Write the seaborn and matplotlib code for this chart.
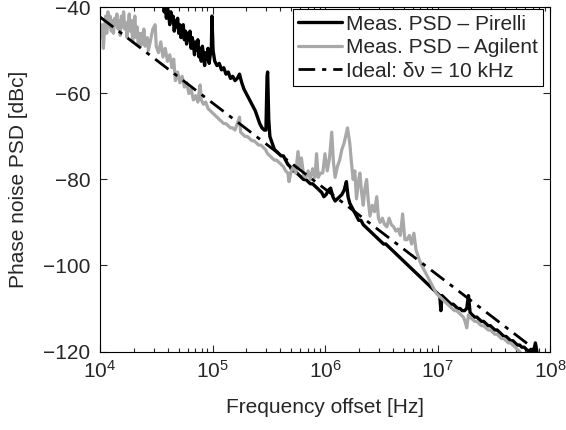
import numpy as np
import pandas as pd
import matplotlib
matplotlib.use('Agg')
import matplotlib.pyplot as plt
import seaborn as sns

# 로그 주파수(log10 Hz)와 위상잡음 PSD [dBc] - 그림에서 읽은 값
pirelli_logf = [4.40, 4.50, 4.56, 4.57, 4.58, 4.59, 4.60, 4.61, 4.62, 4.63, 4.64, 4.65, 4.66, 4.67,
                4.68, 4.69, 4.70, 4.71, 4.72, 4.73, 4.74, 4.75, 4.76, 4.77, 4.78, 4.79, 4.80, 4.81,
                4.82, 4.83, 4.84, 4.85, 4.86, 4.87, 4.88, 4.89, 4.90, 4.91, 4.92, 4.93, 4.94, 4.95,
                4.96, 4.97, 4.98, 4.99, 4.995, 5.005, 5.02, 5.04, 5.06,
                5.08, 5.10, 5.12, 5.14, 5.16, 5.18, 5.20, 5.22, 5.24, 5.26, 5.28, 5.30, 5.32, 5.34,
                5.36, 5.38, 5.40, 5.42, 5.44, 5.46, 5.475, 5.485, 5.49, 5.50, 5.51, 5.53, 5.55, 5.57,
                5.59, 5.61, 5.63, 5.65, 5.67, 5.69, 5.71, 5.73, 5.75, 5.77, 5.79, 5.81, 5.83, 5.85,
                5.87, 5.89, 5.91, 5.93, 5.95, 5.97, 5.99, 6.01, 6.03, 6.05, 6.07, 6.09, 6.11, 6.13,
                6.15, 6.17, 6.19, 6.205, 6.22, 6.24, 6.26, 6.28, 6.30, 6.32, 6.34, 6.36, 6.38, 6.40,
                6.42, 6.44, 6.46, 6.48, 6.50, 6.52, 6.54, 6.56, 6.58, 6.60, 6.62, 6.64, 6.66, 6.68,
                6.70, 6.72, 6.74, 6.76, 6.78, 6.80, 6.82, 6.84, 6.86, 6.88, 6.90, 6.92, 6.94, 6.96,
                6.98, 7.00, 7.02, 7.03, 7.04, 7.06, 7.08, 7.10, 7.12, 7.14, 7.16, 7.18, 7.20, 7.22,
                7.24, 7.26, 7.275, 7.29, 7.31, 7.33, 7.35, 7.37, 7.39, 7.41, 7.43, 7.45, 7.47, 7.49,
                7.51, 7.53, 7.55, 7.57, 7.59, 7.61, 7.63, 7.65, 7.67, 7.69, 7.71, 7.73, 7.75, 7.77,
                7.79, 7.81, 7.83, 7.85, 7.87, 7.89, 7.93]
pirelli_db = [-30, -35, -38, -41, -39.5, -42.5, -40, -41.5, -44, -41, -43, -42, -45.5, -43,
              -44.5, -42.5, -46, -44, -47, -45, -44, -47.5, -45.5, -48.5, -46, -47.5, -45.5, -49.5,
              -47, -48.5, -51, -48, -50, -47.5, -51.5, -49.5, -52.5, -49, -51, -53.5, -50.5, -52,
              -49.5, -53, -51, -49.5, -42, -50, -52.5, -53.5, -53,
              -54.5, -54, -55.5, -55, -56.5, -56, -57, -56.5, -55.5, -57.5, -59, -60, -61, -62,
              -63, -64, -65.5, -67, -68, -68.5, -68.5, -56, -55, -66, -70, -71.5, -73, -73.5,
              -74, -74.5, -74.5, -75.5, -76.5, -77, -78, -78, -78.5, -79, -79.5, -80, -80, -80.5,
              -81, -81, -81.5, -82, -82.5, -83, -84, -83.5, -82.5, -82, -84, -85, -84.5, -84,
              -83.5, -82.5, -80.5, -84, -85.5, -86.5, -87.5, -88.5, -89.5, -89.5, -90.5, -91, -91.5, -92,
              -92.5, -93, -93.5, -94, -94.5, -95, -95, -95.5, -96, -96.5, -97, -97.5, -98, -98.5,
              -99, -99.5, -100, -100.5, -101, -101.5, -102, -102.5, -103, -103.5, -104, -104.5, -105, -105.5,
              -106, -106.5, -107, -110.5, -107, -107.5, -108, -108.5, -109, -109, -109.5, -110, -110, -110.5,
              -110.5, -110, -107, -111, -111.5, -112, -112, -112.5, -113, -113, -113.5, -114, -114, -114.5,
              -115, -115, -115.5, -116, -116.5, -116.5, -117, -117.5, -117.5, -118, -118.5, -118.5, -119, -119,
              -119.5, -120, -119.5, -120.5, -118, -121, -122]

agilent_logf = [4.00, 4.01, 4.02, 4.03, 4.04, 4.05, 4.06, 4.07, 4.08, 4.09, 4.10, 4.11, 4.12, 4.13,
                4.14, 4.15, 4.16, 4.17, 4.18, 4.19, 4.20, 4.21, 4.22, 4.23, 4.24, 4.25, 4.26, 4.27,
                4.28, 4.29, 4.30, 4.31, 4.32, 4.33, 4.34, 4.35, 4.36, 4.37, 4.38, 4.39, 4.40, 4.42,
                4.43, 4.45, 4.47, 4.49, 4.50, 4.52, 4.54, 4.56, 4.58, 4.60, 4.62, 4.64, 4.655, 4.67,
                4.69, 4.71, 4.73, 4.75, 4.77, 4.79, 4.81, 4.83, 4.85, 4.87, 4.89, 4.90, 4.92, 4.94,
                4.96, 4.98, 5.00, 5.02, 5.04, 5.06, 5.08, 5.10, 5.12, 5.14, 5.16, 5.18, 5.20, 5.22,
                5.24, 5.25, 5.27, 5.29, 5.31, 5.33, 5.35, 5.37, 5.39, 5.41, 5.43, 5.45, 5.47, 5.49,
                5.51, 5.53, 5.55, 5.57, 5.59, 5.61, 5.63, 5.65, 5.67, 5.68, 5.70, 5.72, 5.74, 5.76,
                5.775, 5.79, 5.81, 5.83, 5.85, 5.87, 5.89, 5.91, 5.925, 5.94, 5.96, 5.98, 6.00, 6.02,
                6.04, 6.06, 6.075, 6.09, 6.11, 6.13, 6.15, 6.17, 6.20, 6.22, 6.235, 6.25, 6.265, 6.28,
                6.30, 6.31, 6.325, 6.34, 6.355, 6.37, 6.385, 6.40, 6.42, 6.44, 6.46, 6.475, 6.49, 6.51,
                6.53, 6.55, 6.57, 6.59, 6.61, 6.63, 6.65, 6.67, 6.69, 6.71, 6.73, 6.75, 6.77, 6.79,
                6.81, 6.83, 6.85, 6.87, 6.89, 6.91, 6.93, 6.95, 6.97, 6.99, 7.01, 7.03, 7.05, 7.07,
                7.09, 7.11, 7.13, 7.15, 7.17, 7.19, 7.21, 7.23, 7.245, 7.26, 7.275, 7.29, 7.31, 7.33,
                7.35, 7.37, 7.39, 7.41, 7.43, 7.45, 7.47, 7.49, 7.51, 7.53, 7.55, 7.57, 7.59, 7.61,
                7.63, 7.65, 7.67, 7.69, 7.71, 7.73, 7.75]
agilent_db = [-45, -47, -44, -49.5, -45, -42, -46, -41, -44.5, -42, -45.5, -43, -46, -42.5,
              -44, -41.5, -45, -43, -46.5, -42, -44.5, -41, -45, -43.5, -47, -44, -41.5, -45.5,
              -43, -48, -45, -42, -47, -44.5, -48.5, -46, -49, -46, -48.5, -45, -49, -47,
              -50, -47.5, -45, -44, -49, -50.5, -48, -51.5, -49.5, -52.5, -51, -54, -52, -57,
              -55, -57.5, -56, -58.5, -57.5, -60, -59, -61.5, -60.5, -62, -58, -61.5, -62.5, -62,
              -63.5, -64, -64.5, -65, -65.5, -66, -66.5, -67, -67, -67.5, -68, -68, -68.5, -67,
              -65.5, -69, -69.5, -70, -70, -70.5, -71, -71, -71.5, -72, -72, -72.5, -73, -74,
              -74.5, -75, -75.5, -75.5, -76, -76.5, -77, -78, -78.5, -80.5, -78, -77, -78.5, -73.5,
              -77, -75, -79, -79.5, -78, -80, -77.5, -79.5, -74, -79.5, -78.5, -78.5, -74, -78,
              -75, -69, -76, -79.5, -77, -75.5, -73, -71.5, -68, -71.5, -76, -80, -78, -84.5,
              -80, -78.5, -83, -86, -82, -80, -85, -88.5, -86, -87.5, -84, -89, -90, -89,
              -90.5, -91, -89, -90.5, -91, -92, -91.5, -93, -88, -94, -94, -93, -95, -92.5,
              -96.5, -98, -99.5, -100.5, -101.5, -102.5, -103.5, -104.5, -105.5, -106.5, -107, -107.5, -108, -108.5,
              -109, -109.5, -110, -110.5, -110.5, -111, -111.5, -112, -113, -114.5, -111.5, -112, -112.5, -113,
              -113, -113.5, -114, -114, -114.5, -115, -115, -115.5, -116, -116, -116.5, -117, -117, -117.5,
              -118, -118, -118.5, -119, -119.5, -120, -121]

# 이상적인 위상잡음 (δν = 10 kHz) - 양 끝점
ideal_logf = [4.0, 8.0]
ideal_db = [-42.2, -122.2]

df_p = pd.DataFrame({'f': 10 ** np.array(pirelli_logf), 'psd': pirelli_db})
df_a = pd.DataFrame({'f': 10 ** np.array(agilent_logf), 'psd': agilent_db})
df_i = pd.DataFrame({'f': 10 ** np.array(ideal_logf), 'psd': ideal_db})

sns.set_style('ticks')
plt.rcParams['font.family'] = ['Liberation Sans', 'DejaVu Sans']
plt.rcParams['mathtext.fontset'] = 'custom'
plt.rcParams['mathtext.rm'] = 'Liberation Sans'

fig = plt.figure(figsize = (5.66, 4.30), dpi = 100)
ax = fig.add_axes([100 / 566, 1 - 351.5 / 430, 450 / 566, 344 / 430])

sns.lineplot(data = df_p, x = 'f', y = 'psd', ax = ax, color = 'black', lw = 2.4,
             estimator = None, sort = False, label = 'Meas. PSD – Pirelli')
sns.lineplot(data = df_a, x = 'f', y = 'psd', ax = ax, color = '#a8a8a8', lw = 2.3,
             estimator = None, sort = False, label = 'Meas. PSD – Agilent')
sns.lineplot(data = df_i, x = 'f', y = 'psd', ax = ax, color = 'black', lw = 2.0,
             estimator = None, sort = False, label = 'Ideal: δν = 10 kHz')
ax.lines[-1].set_dashes([6, 2.5, 1.5, 2.5])

ax.set_xscale('log')
ax.set_xlim(1e4, 1e8)
ax.set_ylim(-120, -40)
ax.set_yticks([-120, -100, -80, -60, -40])
ax.set_xlabel('Frequency offset [Hz]', fontsize = 15, labelpad = 12)
ax.set_ylabel('Phase noise PSD [dBc]', fontsize = 15, labelpad = 11)
ax.tick_params(which = 'both', direction = 'in', top = True, right = True, labelsize = 15, width = 0.8)
ax.tick_params(axis = 'x', which = 'both', pad = 6)
ax.tick_params(axis = 'y', which = 'both', pad = 7)
ax.tick_params(which = 'major', length = 5)
ax.tick_params(which = 'minor', length = 3)
for s in ax.spines.values():
    s.set_linewidth(0.8)
    s.set_color('black')

leg = ax.legend(loc = 'upper right', bbox_to_anchor = (443 / 450, 1 - 1.8 / 344), fontsize = 15,
                frameon = True, fancybox = False, edgecolor = 'black', framealpha = 1,
                borderaxespad = 0, handlelength = 2.1, handletextpad = 0.2,
                labelspacing = 0.22, borderpad = 0.25)
leg.get_frame().set_linewidth(0.8)

fig.savefig('out.png', dpi = 100)
